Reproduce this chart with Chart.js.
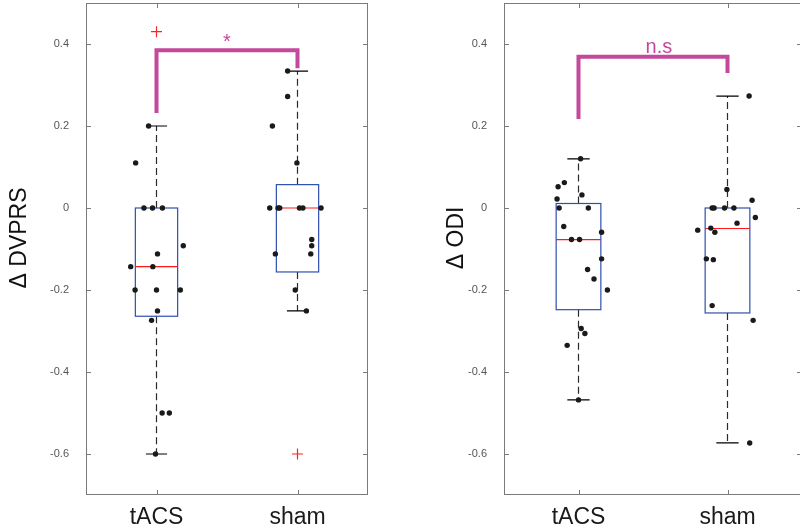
<!DOCTYPE html>
<html>
<head>
<meta charset="utf-8">
<script src="https://cdn.jsdelivr.net/npm/chart.js@4.4.1/dist/chart.umd.min.js"></script>
<style>
  html, body { margin: 0; padding: 0; background: #fff; overflow: hidden; }
  .panel { position: absolute; top: 0; height: 528px; }
</style>
</head>
<body>
<div class="panel" style="left:0;width:370px"><canvas id="chartDvprs"></canvas></div>
<div class="panel" style="left:418px;width:386px"><canvas id="chartOdi"></canvas></div>
<script>
// groups and axis ticks
const groups = ['tACS', 'sham'];
const yTicks = [-0.6, -0.4, -0.2, 0, 0.2, 0.4];

// Δ DVPRS: individual values and their horizontal jitter (in group units)
const dvprsTacs = [0.2, 0.11, 0, 0, 0, -0.092, -0.112, -0.143, -0.143, -0.2, -0.2, -0.2, -0.251, -0.274, -0.5, -0.5, -0.6];
const dvprsTacsJitter = [-0.056, -0.148, -0.089, -0.028, 0.042, 0.19, 0.007, -0.183, -0.026, -0.152, 0, 0.169, 0.007, -0.035, 0.04, 0.091, -0.007];
const dvprsSham = [0.334, 0.272, 0.2, 0.11, 0, 0, 0, 0, 0, 0, -0.077, -0.092, -0.112, -0.112, -0.2, -0.251];
const dvprsShamJitter = [-0.07, -0.07, -0.178, -0.004, -0.197, -0.138, -0.126, 0.014, 0.038, 0.167, 0.101, 0.101, 0.094, -0.157, -0.016, 0.063];
// box statistics per group (tACS, sham)
const dvprsQ1 = [-0.264, -0.156];
const dvprsMedian = [-0.143, 0];
const dvprsQ3 = [0, 0.057];
const dvprsWhiskerLo = [-0.6, -0.251];
const dvprsWhiskerHi = [0.2, 0.334];
const dvprsOutliers = [[0.43], [-0.6]];
// significance bracket: left leg end, bar height, right leg end
const dvprsBracket = [0.232, 0.385, 0.341];
const dvprsSig = { text: '*', x: 1.5, y: 0.39 };

// Δ ODI
const odiTacs = [0.12, 0.062, 0.052, 0.032, 0.022, 0, 0, -0.045, -0.059, -0.077, -0.077, -0.124, -0.15, -0.173, -0.2, -0.294, -0.306, -0.335, -0.468];
const odiTacsJitter = [0.014, -0.095, -0.137, 0.023, -0.144, -0.13, 0.066, -0.099, 0.155, -0.047, 0.007, 0.155, 0.061, 0.104, 0.194, 0.018, 0.043, -0.076, 0];
const odiSham = [0.273, 0.045, 0.019, 0, 0, 0, 0, -0.023, -0.037, -0.049, -0.054, -0.059, -0.124, -0.126, -0.238, -0.274, -0.573];
const odiShamJitter = [0.145, -0.004, 0.165, -0.103, -0.09, -0.02, 0.043, 0.187, 0.064, -0.112, -0.2, -0.085, -0.142, -0.095, -0.103, 0.172, 0.149];
const odiQ1 = [-0.248, -0.256];
const odiMedian = [-0.077, -0.05];
const odiQ3 = [0.011, 0];
const odiWhiskerLo = [-0.468, -0.573];
const odiWhiskerHi = [0.12, 0.273];
const odiOutliers = [[], []];
const odiBracket = [0.217, 0.369, 0.329];
const odiSig = { text: 'n.s', x: 1.54, y: 0.378 };

const FONT = "'Liberation Sans', Arial, sans-serif";
const MAGENTA = '#c4489c';

// draws boxes + whiskers under the dots, frame + inward ticks + labels on top
const boxPlugin = {
  id: 'boxes',
  beforeDatasetsDraw(chart, args, opts) {
    const { ctx, scales: { x, y } } = chart;
    ctx.save();
    opts.q1.forEach((q1, i) => {
      const g = i + 1;
      const cx = x.getPixelForValue(g);
      const bl = x.getPixelForValue(g - 0.15), br = x.getPixelForValue(g + 0.15);
      const cl = x.getPixelForValue(g - 0.075), cr = x.getPixelForValue(g + 0.075);
      const yq1 = y.getPixelForValue(q1), yq3 = y.getPixelForValue(opts.q3[i]);
      const ylo = y.getPixelForValue(opts.lo[i]), yhi = y.getPixelForValue(opts.hi[i]);
      // dashed whiskers
      ctx.strokeStyle = '#2b2b2b';
      ctx.lineWidth = 1.2;
      ctx.setLineDash([7, 4]);
      ctx.beginPath();
      ctx.moveTo(cx, yq3); ctx.lineTo(cx, yhi);
      ctx.moveTo(cx, yq1); ctx.lineTo(cx, ylo);
      ctx.stroke();
      ctx.setLineDash([]);
      // caps
      ctx.strokeStyle = '#000';
      ctx.beginPath();
      ctx.moveTo(cl, yhi); ctx.lineTo(cr, yhi);
      ctx.moveTo(cl, ylo); ctx.lineTo(cr, ylo);
      ctx.stroke();
      // box
      ctx.strokeStyle = '#2f4fb0';
      ctx.lineWidth = 1.2;
      ctx.strokeRect(bl, yq3, br - bl, yq1 - yq3);
      // median
      const ym = y.getPixelForValue(opts.median[i]);
      ctx.strokeStyle = '#ff1a1a';
      ctx.beginPath();
      ctx.moveTo(bl, ym); ctx.lineTo(br, ym);
      ctx.stroke();
    });
    ctx.restore();
  },
  afterDraw(chart, args, opts) {
    const { ctx, chartArea: a, scales: { x, y } } = chart;
    ctx.save();
    ctx.strokeStyle = '#7a7a7a';
    ctx.lineWidth = 1;
    ctx.strokeRect(a.left + 0.5, a.top + 0.5, a.right - a.left - 1, a.bottom - a.top - 1);
    ctx.beginPath();
    yTicks.forEach(v => {
      const py = Math.round(y.getPixelForValue(v)) + 0.5;
      ctx.moveTo(a.left, py); ctx.lineTo(a.left + 5, py);
      ctx.moveTo(a.right, py); ctx.lineTo(a.right - 5, py);
    });
    groups.forEach((g, i) => {
      const px = Math.round(x.getPixelForValue(i + 1)) + 0.5;
      ctx.moveTo(px, a.bottom); ctx.lineTo(px, a.bottom - 5);
      ctx.moveTo(px, a.top); ctx.lineTo(px, a.top + 5);
    });
    ctx.stroke();
    // significance label
    ctx.fillStyle = MAGENTA;
    ctx.font = '20px ' + FONT;
    ctx.textAlign = 'center';
    ctx.textBaseline = 'alphabetic';
    ctx.fillText(opts.sig.text, x.getPixelForValue(opts.sig.x), y.getPixelForValue(opts.sig.y));
    // y axis title, rotated, centred a little above the middle like the original
    ctx.fillStyle = '#111';
    ctx.font = '23px ' + FONT;
    ctx.textBaseline = 'middle';
    ctx.translate(a.left - opts.titleGap, y.getPixelForValue(-0.073));
    ctx.rotate(-Math.PI / 2);
    ctx.fillText(opts.title, 0, 0);
    ctx.restore();
  }
};

function makeChart(id, title, titleGap, tacs, tacsJit, sham, shamJit, stats, outliers, bracket, sig, padRight) {
  const dots = tacs.map((v, i) => ({ x: 1 + tacsJit[i], y: v }))
    .concat(sham.map((v, i) => ({ x: 2 + shamJit[i], y: v })));
  const outPts = [];
  outliers.forEach((arr, i) => arr.forEach(v => outPts.push({ x: i + 1, y: v })));
  const bracketPts = [
    { x: 1, y: bracket[0] }, { x: 1, y: bracket[1] },
    { x: 2, y: bracket[1] }, { x: 2, y: bracket[2] }
  ];
  return new Chart(document.getElementById(id), {
    type: 'scatter',
    data: {
      datasets: [
        {
          data: dots, backgroundColor: '#1a1a1a', borderWidth: 0, pointRadius: 2.7
        },
        {
          data: outPts, pointStyle: 'cross', pointRadius: 5.5,
          borderColor: '#ff2222', borderWidth: 1.2
        },
        {
          type: 'line', data: bracketPts, showLine: true, pointRadius: 0,
          borderColor: MAGENTA, borderWidth: 4, fill: false,
          borderCapStyle: 'butt', borderJoinStyle: 'miter', tension: 0
        }
      ]
    },
    options: {
      responsive: true,
      maintainAspectRatio: false,
      animation: false,
      layout: { autoPadding: false, padding: { top: 3, right: padRight, left: 0, bottom: 0 } },
      plugins: {
        legend: { display: false },
        tooltip: { enabled: false },
        boxes: { ...stats, sig, title, titleGap }
      },
      scales: {
        x: {
          type: 'linear', min: 0.5, max: 2.5,
          grid: { display: false, drawTicks: false },
          border: { display: false },
          afterBuildTicks: s => { s.ticks = groups.map((g, i) => ({ value: i + 1 })); },
          afterFit: s => { s.height = 33; s.paddingLeft = 0; s.paddingRight = 0; },
          ticks: {
            callback: v => groups[v - 1],
            font: { family: FONT, size: 23 }, color: '#1a1a1a', padding: 9,
            maxRotation: 0, autoSkip: false
          }
        },
        y: {
          min: -0.7, max: 0.5,
          grid: { display: false, drawTicks: false },
          border: { display: false },
          afterBuildTicks: s => { s.ticks = yTicks.map(v => ({ value: v })); },
          afterFit: s => { s.width = 86; s.paddingTop = 0; s.paddingBottom = 0; },
          ticks: {
            callback: v => String(v),
            font: { family: FONT, size: 11 }, color: '#555', padding: 17
          }
        }
      }
    },
    plugins: [boxPlugin]
  });
}

makeChart('chartDvprs', 'Δ DVPRS', 66, dvprsTacs, dvprsTacsJitter, dvprsSham, dvprsShamJitter,
  { q1: dvprsQ1, median: dvprsMedian, q3: dvprsQ3, lo: dvprsWhiskerLo, hi: dvprsWhiskerHi },
  dvprsOutliers, dvprsBracket, dvprsSig, 2);

makeChart('chartOdi', 'Δ ODI', 47, odiTacs, odiTacsJitter, odiSham, odiShamJitter,
  { q1: odiQ1, median: odiMedian, q3: odiQ3, lo: odiWhiskerLo, hi: odiWhiskerHi },
  odiOutliers, odiBracket, odiSig, 2);
</script>
</body>
</html>
